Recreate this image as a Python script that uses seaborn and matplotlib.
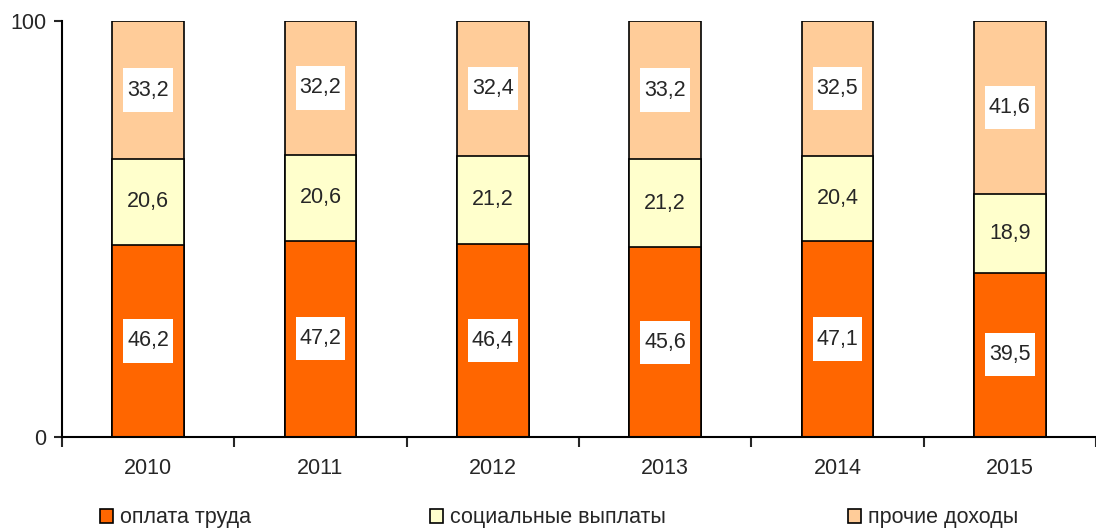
import numpy as np
import pandas as pd
import matplotlib
matplotlib.use("Agg")
import matplotlib.pyplot as plt
import seaborn as sns
from matplotlib.patches import Patch, Rectangle

years = ['2010', '2011', '2012', '2013', '2014', '2015']
wages = [46.2, 47.2, 46.4, 45.6, 47.1, 39.5]
social = [20.6, 20.6, 21.2, 21.2, 20.4, 18.9]
other = [33.2, 32.2, 32.4, 33.2, 32.5, 41.6]
series_names = ['оплата труда', 'социальные выплаты', 'прочие доходы']
colors = ['#FF6600', '#FFFFCC', '#FFCC99']

sns.set_style('white')
plt.rcParams['font.family'] = ['Liberation Sans', 'DejaVu Sans']

df = pd.DataFrame({'year': years, 'wages': wages, 'social': social, 'other': other})
df['c1'] = df['wages']
df['c2'] = df['wages'] + df['social']
df['c3'] = df['c2'] + df['other']

fig = plt.figure(figsize=(10.96, 5.28), dpi=100)
ax = fig.add_axes([62/1096, 91/528, 1034/1096, 416/528])

# top layer first, then the lower ones on top of it
for col, c in zip(['c3', 'c2', 'c1'], colors[::-1]):
    sns.barplot(data=df, x='year', y=col, color=c, width=0.415, saturation=1,
                edgecolor='black', linewidth=1.2, ax=ax)

def lab(v):
    return f'{v:.1f}'.replace('.', ',')

fs = 15.5
for i in range(len(years)):
    ys = [wages[i]/2, wages[i] + social[i]/2, wages[i] + social[i] + other[i]/2]
    vals = [wages[i], social[i], other[i]]
    for k in range(3):
        if k != 1:
            ax.add_patch(Rectangle((i - 0.145, ys[k] - 5.2), 0.29, 10.4,
                                   facecolor='white', edgecolor='none', zorder=3))
        ax.text(i, ys[k], lab(vals[k]), ha='center', va='center', fontsize=fs, zorder=4)

ax.set_ylim(0, 100)
ax.set_xlim(-0.5, 5.5)
ax.set_yticks([0, 100])
ax.set_yticklabels(['0', '100'], fontsize=fs)
ax.set_xticks(np.arange(-0.5, 5.6, 1))
ax.set_xticklabels([''] * 7)
ax.set_xticks(range(len(years)), minor=True)
ax.set_xticklabels(years, minor=True, fontsize=fs)
ax.tick_params(axis='x', which='major', direction='out', length=7, width=1.5, bottom=True)
ax.tick_params(axis='x', which='minor', length=0, pad=15)
ax.tick_params(axis='y', direction='out', length=6, width=1.5, left=True, pad=5)
ax.set_xlabel('')
ax.set_ylabel('')
sns.despine(ax=ax, top=True, right=True)
for s in ['left', 'bottom']:
    ax.spines[s].set_color('black')
    ax.spines[s].set_linewidth(1.5)

legend_x = [100, 430, 848]
for name, c, lx in zip(series_names, colors, legend_x):
    h = Patch(facecolor=c, edgecolor='black', linewidth=1.2)
    fig.legend([h], [name], loc='center left', bbox_to_anchor=(lx/1096, 10/528),
               frameon=False, fontsize=fs, handlelength=0.6, handleheight=0.6,
               handletextpad=0.35, borderpad=0, borderaxespad=0)

plt.savefig('out.png', dpi=100)
